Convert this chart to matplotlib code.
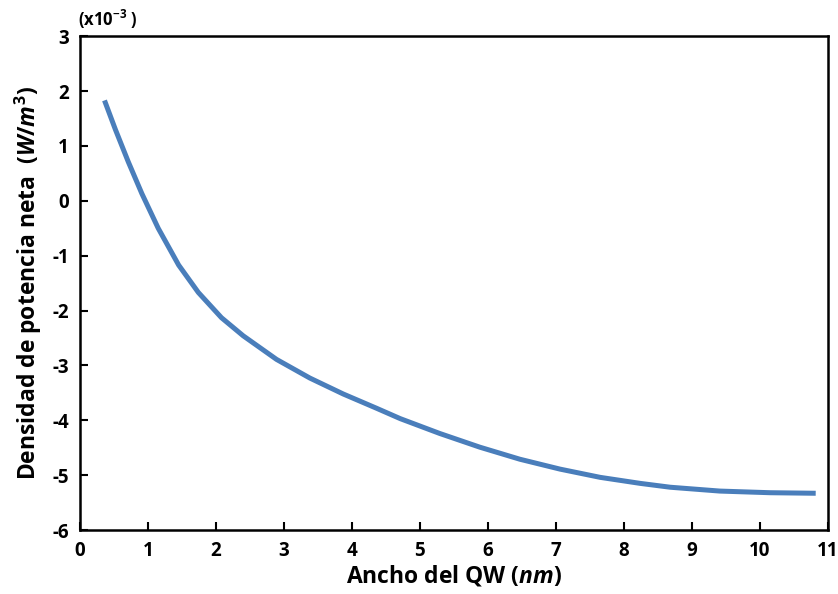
import matplotlib
matplotlib.use("Agg")
import matplotlib.pyplot as plt

plt.rcParams['font.family'] = ['Open Sans', 'DejaVu Sans']
plt.rcParams['font.weight'] = 'bold'
plt.rcParams['mathtext.fontset'] = 'custom'
plt.rcParams['mathtext.rm'] = 'Open Sans:bold'
plt.rcParams['mathtext.it'] = 'Open Sans:bold:italic'
plt.rcParams['mathtext.bf'] = 'Open Sans:bold'

# Data (net power density, x1e-3 W/m^3) vs QW width (nm)
width_nm = [0.36, 0.52, 0.71, 0.91, 1.15, 1.45, 1.74, 2.08, 2.40, 2.89, 3.38,
            3.87, 4.36, 4.71, 5.29, 5.88, 6.47, 7.06, 7.65, 8.24, 8.68, 9.41,
            10.15, 10.82]
power = [1.83, 1.30, 0.71, 0.13, -0.50, -1.17, -1.67, -2.13, -2.46, -2.89, -3.23,
         -3.52, -3.78, -3.97, -4.24, -4.49, -4.71, -4.89, -5.04, -5.15, -5.22, -5.29,
         -5.32, -5.33]

x_ticks = list(range(0, 12))
y_ticks = list(range(-6, 4))

fig = plt.figure(figsize=(8.38, 5.94), dpi=100)
ax = fig.add_axes([0.0955, 0.1077, 0.8925, 0.8313])

ax.plot(width_nm, power, color='#4a7ebb', lw=3.6, solid_capstyle='butt',
        solid_joinstyle='round')

ax.set_xlim(0, 11)
ax.set_ylim(-6, 3)
ax.set_xticks(x_ticks)
ax.set_yticks(y_ticks)
ax.set_xticklabels([str(v) for v in x_ticks], fontsize=13.5, fontweight='bold')
ax.set_yticklabels([str(v) for v in y_ticks], fontsize=13.5, fontweight='bold')
ax.tick_params(direction='in', length=6, width=1.5, pad=8)
for s in ax.spines.values():
    s.set_linewidth(1.8)

ax.set_xlabel('Ancho del QW ($nm$)', fontsize=16.5, fontweight='bold', labelpad=2)
ax.set_ylabel('Densidad de potencia neta  ($W/m^3$)', fontsize=16.5, fontweight='bold', labelpad=6)

fig.text(0.128, 0.968, '(x10$^{-3}$ )', fontsize=12, fontweight='bold', ha='center', va='center')

fig.savefig('out.png', dpi=100)
